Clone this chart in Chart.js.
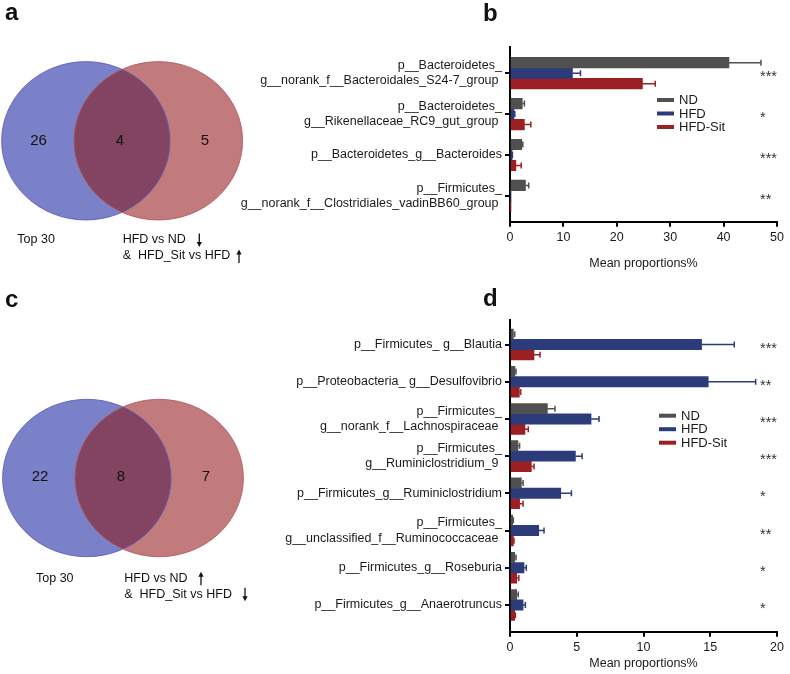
<!DOCTYPE html>
<html><head><meta charset="utf-8">
<script src="https://cdn.jsdelivr.net/npm/chart.js@4/dist/chart.umd.min.js"></script>
<style>
html,body{margin:0;padding:0;background:#fff;}
#wrap{position:relative;width:790px;height:674px;overflow:hidden;background:#fff;}
canvas{position:absolute;left:0;top:0;pointer-events:none;}
</style></head><body>
<div id="wrap">
<canvas id="va" width="790" height="674"></canvas>
<canvas id="vc" width="790" height="674"></canvas>
<canvas id="cb" width="790" height="674"></canvas>
<canvas id="cd" width="790" height="674"></canvas>
</div>
<script>
// ---------- DATA ----------
const groups = ['ND', 'HFD', 'HFD-Sit'];

// panel b
const catsB = [
  ['p__Bacteroidetes_', 'g__norank_f__Bacteroidales_S24-7_group '],
  ['p__Bacteroidetes_', 'g__Rikenellaceae_RC9_gut_group '],
  'p__Bacteroidetes_g__Bacteroides',
  ['p__Firmicutes_', 'g__norank_f__Clostridiales_vadinBB60_group ']
];
const ndB     = [41.0, 2.3, 2.2, 2.9];
const ndErrB  = [47.0, 2.7, 2.4, 3.5];
const hfdB    = [11.7, 0.75, 0.4, 0.15];
const hfdErrB = [13.2, 0.9, 0.45, 0.15];
const sitB    = [24.8, 2.7, 1.1, 0.1];
const sitErrB = [27.2, 3.9, 2.1, 0.1];
const sigB    = ['***', '*', '***', '**'];
const xMaxB = 50, xStepB = 10;

// panel d
const catsD = [
  'p__Firmicutes_ g__Blautia',
  'p__Proteobacteria_ g__Desulfovibrio',
  ['p__Firmicutes_', 'g__norank_f__Lachnospiraceae '],
  ['p__Firmicutes_', 'g__Ruminiclostridium_9 '],
  'p__Firmicutes_g__Ruminiclostridium',
  ['p__Firmicutes_', 'g__unclassified_f__Ruminococcaceae '],
  'p__Firmicutes_g__Roseburia',
  'p__Firmicutes_g__Anaerotruncus'
];
const ndD     = [0.25, 0.37, 2.8, 0.6, 0.85, 0.2, 0.35, 0.5];
const ndErrD  = [0.35, 0.45, 3.37, 0.72, 0.98, 0.25, 0.45, 0.62];
const hfdD    = [14.35, 14.85, 6.07, 4.9, 3.8, 2.15, 1.05, 0.98];
const hfdErrD = [16.8, 18.4, 6.67, 5.4, 4.6, 2.55, 1.22, 1.15];
const sitD    = [1.8, 0.7, 1.12, 1.6, 0.72, 0.25, 0.5, 0.35];
const sitErrD = [2.25, 0.8, 1.37, 1.8, 0.98, 0.3, 0.66, 0.4];
const sigD    = ['***', '**', '***', '***', '*', '**', '*', '*'];
const xMaxD = 20, xStepD = 5;

// Venn diagrams
const vennCountsA = [26, 4, 5];
const vennCountsC = [22, 8, 7];
const vennSetA = 'Top 30';
const vennSetB = ['HFD vs ND', '&  HFD_Sit vs HFD'];
const arrowsA = ['down', 'up'];
const arrowsC = ['up', 'down'];

// ---------- STYLE ----------
const FONT = "'Liberation Sans', Arial, Helvetica, sans-serif";
const COL = { nd: '#505050', hfd: '#2c3b7a', sit: '#9c1f24' };
const TXT = '#1a1a1a';

// ---------- PLUGINS ----------
const errPlugin = {
  id: 'errbars',
  afterDatasetsDraw(chart) {
    const ctx = chart.ctx, xs = chart.scales.x;
    chart.data.datasets.forEach((ds, di) => {
      const meta = chart.getDatasetMeta(di);
      meta.data.forEach((bar, i) => {
        const v = ds.data[i].x, e = ds.err[i];
        if (!(e > v)) return;
        const x0 = xs.getPixelForValue(v), x1 = xs.getPixelForValue(e), y = bar.y;
        ctx.save();
        ctx.strokeStyle = ds.backgroundColor;
        ctx.lineWidth = 1.5;
        ctx.beginPath();
        ctx.moveTo(x0, y); ctx.lineTo(x1, y);
        ctx.moveTo(x1, y - 3); ctx.lineTo(x1, y + 3);
        ctx.stroke();
        ctx.restore();
      });
    });
  }
};

function annotPlugin(cfg) {
  return {
    id: 'annot',
    afterDraw(chart) {
      const ctx = chart.ctx, ys = chart.scales.y, ca = chart.chartArea;
      ctx.save();
      ctx.fillStyle = '#333';
      ctx.font = '14.5px ' + FONT;
      ctx.textAlign = 'left';
      ctx.textBaseline = 'alphabetic';
      cfg.sig.forEach((s, i) => {
        ctx.fillText(s, cfg.starX, ys.getPixelForValue(i) + 8);
      });
      ctx.font = '13px ' + FONT;
      ctx.textBaseline = 'middle';
      chart.data.datasets.forEach((ds, di) => {
        const y = ca.top + cfg.legTop + di * 13.5;
        const x = ca.left + cfg.legLeft;
        ctx.fillStyle = ds.backgroundColor;
        ctx.fillRect(x, y - 2, 17, 4);
        ctx.fillStyle = TXT;
        ctx.fillText(ds.label, x + 22, y + 0.5);
      });
      ctx.font = 'bold 24px ' + FONT;
      ctx.fillStyle = '#111';
      ctx.textBaseline = 'alphabetic';
      ctx.fillText(cfg.letter, cfg.letterX, cfg.letterY);
      ctx.restore();
    }
  };
}

function barChart(id, cats, nd, ndErr, hfd, hfdErr, sit, sitErr, sig, xMax, xStep, L) {
  const mk = (vals) => vals.map((v, i) => ({ x: v, y: i }));
  new Chart(document.getElementById(id), {
    type: 'bar',
    data: {
      datasets: [
        { label: groups[0], data: mk(nd), err: ndErr, backgroundColor: COL.nd },
        { label: groups[1], data: mk(hfd), err: hfdErr, backgroundColor: COL.hfd },
        { label: groups[2], data: mk(sit), err: sitErr, backgroundColor: COL.sit }
      ]
    },
    options: {
      indexAxis: 'y',
      responsive: false,
      animation: false,
      devicePixelRatio: 1,
      layout: { padding: { left: 0, top: L.top, right: 790 - L.right, bottom: L.padBottom } },
      datasets: { bar: { barThickness: L.barTh, borderWidth: 0 } },
      scales: {
        x: {
          type: 'linear', min: 0, max: xMax, offset: false,
          ticks: { stepSize: xStep, color: TXT, font: { family: FONT, size: 12.5 }, padding: 3 },
          grid: { offset: false, drawOnChartArea: false, drawTicks: true, tickLength: 5, lineWidth: 2, tickWidth: 2, tickColor: '#000' },
          border: { display: true, color: '#000', width: 2 },
          title: { display: true, text: 'Mean proportions%', color: TXT, font: { family: FONT, size: 12.5, lineHeight: 1.2 }, padding: { top: 0, bottom: L.titlePad } },
          afterFit(s) { s.height = L.xH; }
        },
        y: {
          type: 'linear', reverse: true, min: L.yMin, max: L.yMax, offset: false,
          afterBuildTicks(s) { s.ticks = cats.map((c, i) => ({ value: i })); },
          ticks: {
            autoSkip: false, color: TXT, padding: 3,
            font: { family: FONT, size: 12.5, lineHeight: 1.24 },
            callback: (v) => cats[Math.round(v)]
          },
          grid: { offset: false, drawOnChartArea: false, drawTicks: true, tickLength: 5, lineWidth: 2, tickWidth: 2, tickColor: '#000' },
          border: { display: true, color: '#000', width: 2 },
          afterFit(s) { s.width = L.left; }
        }
      },
      plugins: { legend: { display: false }, tooltip: { enabled: false } }
    },
    plugins: [errPlugin, annotPlugin({ sig: sig, starX: 760, legLeft: L.legLeft, legTop: L.legTop, letter: L.letter, letterX: 483, letterY: L.letterY })]
  });
}

barChart('cb', catsB, ndB, ndErrB, hfdB, hfdErrB, sitB, sitErrB, sigB, xMaxB, xStepB,
  { top: 47, right: 777, left: 510, padBottom: 384, xH: 68.3, titlePad: 19, yMin: -0.64, yMax: 3.63, barTh: 10.5, legLeft: 147, legTop: 53, letter: 'b', letterY: 21 });
barChart('cd', catsD, ndD, ndErrD, hfdD, hfdErrD, sitD, sitErrD, sigD, xMaxD, xStepD,
  { top: 320, right: 777, left: 510, padBottom: 0, xH: 42.3, titlePad: 2.5, yMin: -0.66, yMax: 7.72, barTh: 10.3, legLeft: 149, legTop: 95.7, letter: 'd', letterY: 306 });

// ---------- VENN ----------
function drawArrow(ctx, x, y0, y1, dir) {
  ctx.save();
  ctx.strokeStyle = '#111'; ctx.fillStyle = '#111'; ctx.lineWidth = 1.3;
  ctx.beginPath();
  if (dir === 'down') {
    ctx.moveTo(x, y0); ctx.lineTo(x, y1 - 4); ctx.stroke();
    ctx.beginPath(); ctx.moveTo(x - 2.6, y1 - 5); ctx.lineTo(x + 2.6, y1 - 5); ctx.lineTo(x, y1); ctx.closePath(); ctx.fill();
  } else {
    ctx.moveTo(x, y1); ctx.lineTo(x, y0 + 4); ctx.stroke();
    ctx.beginPath(); ctx.moveTo(x - 2.6, y0 + 5); ctx.lineTo(x + 2.6, y0 + 5); ctx.lineTo(x, y0); ctx.closePath(); ctx.fill();
  }
  ctx.restore();
}

function vennChart(id, counts, G, arrows) {
  new Chart(document.getElementById(id), {
    type: 'scatter',
    data: { datasets: [{ data: G.labelPos.map(p => ({ x: p[0], y: p[1] })), pointRadius: 0, counts: counts }] },
    options: {
      responsive: false, animation: false, devicePixelRatio: 1,
      layout: { padding: 0 },
      scales: { x: { display: false, min: 0, max: 790 }, y: { display: false, min: 0, max: 674, reverse: true } },
      plugins: { legend: { display: false }, tooltip: { enabled: false } }
    },
    plugins: [{
      id: 'venn',
      beforeDatasetsDraw(chart) {
        const ctx = chart.ctx, xs = chart.scales.x, ys = chart.scales.y;
        const ell = (e) => {
          ctx.beginPath();
          ctx.ellipse(xs.getPixelForValue(e.cx), ys.getPixelForValue(e.cy),
            xs.getPixelForValue(e.cx + e.rx) - xs.getPixelForValue(e.cx),
            Math.abs(ys.getPixelForValue(e.cy + e.ry) - ys.getPixelForValue(e.cy)), 0, 0, Math.PI * 2);
        };
        ctx.save();
        ell(G.left); ctx.fillStyle = '#7b81c8'; ctx.fill();
        ell(G.right); ctx.fillStyle = '#c17b7c'; ctx.fill();
        ctx.save(); ell(G.left); ctx.clip(); ell(G.right); ctx.fillStyle = '#824461'; ctx.fill(); ctx.restore();
        ctx.lineWidth = 1;
        ell(G.left); ctx.strokeStyle = 'rgba(85,90,185,0.8)'; ctx.stroke();
        ell(G.right); ctx.strokeStyle = 'rgba(175,85,90,0.8)'; ctx.stroke();
        ctx.restore();
      },
      afterDraw(chart) {
        const ctx = chart.ctx;
        const meta = chart.getDatasetMeta(0);
        ctx.save();
        ctx.fillStyle = '#111';
        ctx.font = '15px ' + FONT;
        ctx.textAlign = 'center'; ctx.textBaseline = 'middle';
        meta.data.forEach((pt, i) => ctx.fillText(String(chart.data.datasets[0].counts[i]), pt.x, pt.y));
        ctx.font = '12.5px ' + FONT;
        ctx.textAlign = 'left'; ctx.textBaseline = 'middle';
        ctx.fillText(vennSetA, G.setAx, G.setY);
        ctx.fillText(vennSetB[0], G.setBx, G.setY);
        ctx.fillText(vennSetB[1], G.setBx, G.setY + 16);
        drawArrow(ctx, G.arrow1x, G.setY - 6.5, G.setY + 7, arrows[0]);
        drawArrow(ctx, G.arrow2x, G.setY + 9.5, G.setY + 23, arrows[1]);
        ctx.font = 'bold 24px ' + FONT;
        ctx.textBaseline = 'alphabetic';
        ctx.fillText(G.letter, 5, G.letterY);
        ctx.restore();
      }
    }]
  });
}

vennChart('va', vennCountsA, {
  left: { cx: 85.8, cy: 140.8, rx: 84.2, ry: 79.2 },
  right: { cx: 158.3, cy: 140.8, rx: 84.3, ry: 79.2 },
  labelPos: [[38.5, 140.5], [120, 140.5], [205, 140.5]],
  setAx: 17.3, setBx: 122.7, setY: 240, arrow1x: 199.3, arrow2x: 239,
  letter: 'a', letterY: 20
}, arrowsA);

vennChart('vc', vennCountsC, {
  left: { cx: 86.8, cy: 478, rx: 84.2, ry: 78.7 },
  right: { cx: 159.2, cy: 478, rx: 84.2, ry: 78.7 },
  labelPos: [[40, 477], [121, 477], [206, 477]],
  setAx: 36, setBx: 124.3, setY: 578.3, arrow1x: 201, arrow2x: 245,
  letter: 'c', letterY: 306.5
}, arrowsC);
</script>
</body></html>
